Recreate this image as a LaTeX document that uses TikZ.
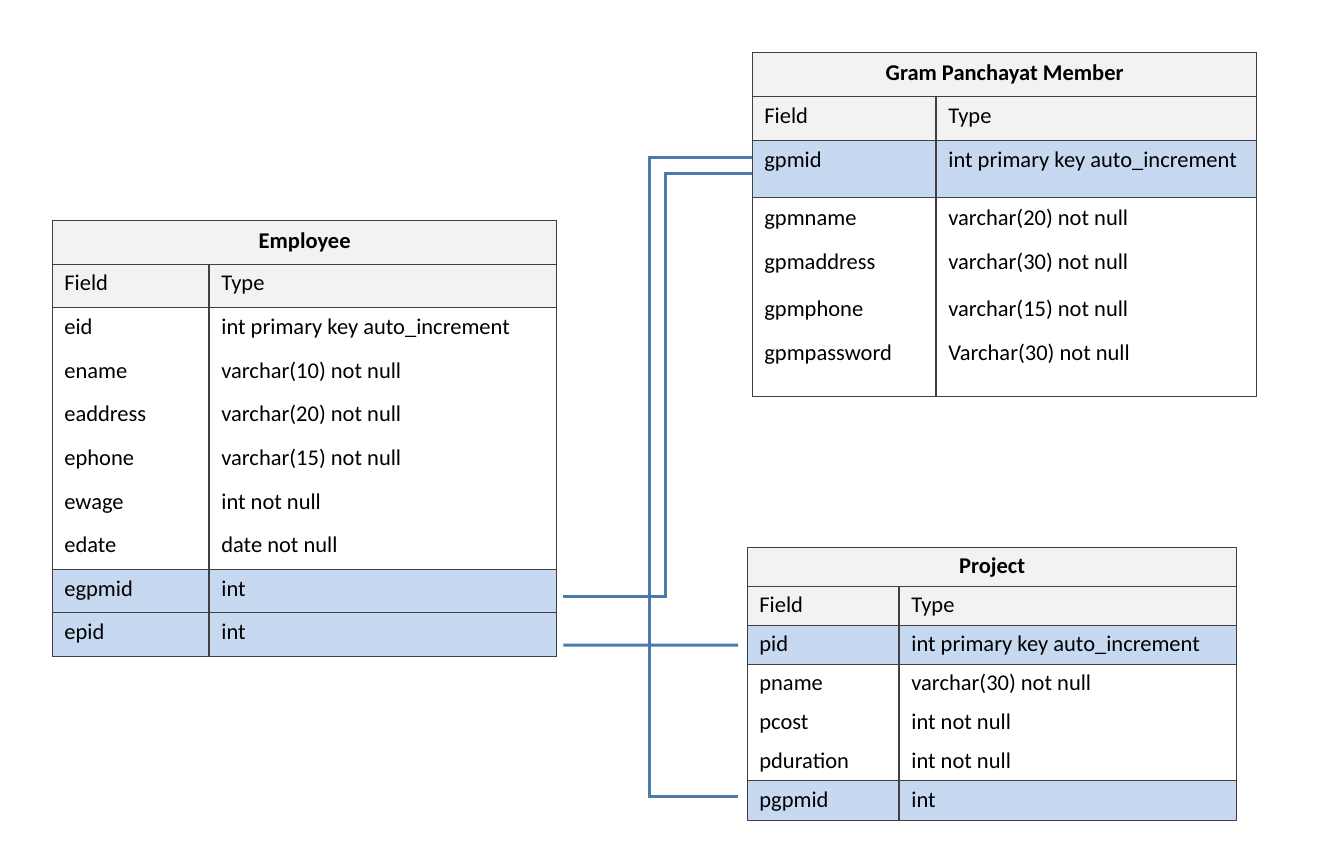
\documentclass[tikz,border=0pt]{standalone}
\usepackage{fontspec}
\setmainfont{Carlito}
\usetikzlibrary{positioning}
\definecolor{gridline}{HTML}{404040}
\definecolor{headgray}{HTML}{F2F2F2}
\definecolor{keyblue}{HTML}{C6D9F0}
\definecolor{linkblue}{HTML}{4A7AAE}
\tikzstyle{band} = [rectangle, draw=gridline, line width=0.8pt, inner sep=0pt, anchor=north west]
\tikzstyle{cell} = [anchor=base west, inner sep=0pt, font=\fontsize{12.8}{15}\selectfont]
\tikzstyle{tname} = [inner sep=0pt, font=\fontsize{12.8}{15}\selectfont\bfseries]
\tikzstyle{link} = [draw=linkblue, line width=1.7pt]
\tikzstyle{divider} = [draw=gridline, line width=0.8pt]

\begin{document}
\begin{tikzpicture}[x=0.02cm, y=-0.02cm]
    \useasboundingbox[fill=white] (0,0) rectangle (1344,860);

    % Employee
    \node (emptitle) [band, fill=headgray, minimum width=10.08cm, minimum height=0.88cm] at (52,220) {};
    \node (emphead) [band, fill=headgray, minimum width=10.08cm, minimum height=0.86cm] at (52,264) {};
    \node (empbody) [band, minimum width=10.08cm, minimum height=5.24cm] at (52,307) {};
    \node (egpmid) [band, fill=keyblue, minimum width=10.08cm, minimum height=0.86cm] at (52,569) {};
    \node (epid) [band, fill=keyblue, minimum width=10.08cm, minimum height=0.88cm] at (52,612) {};
    \draw [divider] (emphead.north west -| 209,0) -- (epid.south west -| 209,0);
    \node (empname) [tname] at (emptitle.center) {Employee};
    \foreach \f/\t/\y [count=\i] in {Field/Type/283, eid/int primary key auto\_increment/327,
        ename/varchar(10) not null/371, eaddress/varchar(20) not null/414,
        ephone/varchar(15) not null/458, ewage/int not null/502, edate/date not null/545,
        egpmid/int/589, epid/int/632} {
        \node (empf\i) [cell] at (64,\y+7) {\f};
        \node (empt\i) [cell] at (221,\y+7) {\t};
    }

    % Gram Panchayat Member
    \node (gpmtitle) [band, fill=headgray, minimum width=10.08cm, minimum height=0.88cm] at (752,52) {};
    \node (gpmhead) [band, fill=headgray, minimum width=10.08cm, minimum height=0.88cm] at (752,96) {};
    \node (gpmid) [band, fill=keyblue, minimum width=10.08cm, minimum height=1.14cm] at (752,140) {};
    \node (gpmbody) [band, minimum width=10.08cm, minimum height=3.98cm] at (752,197) {};
    \draw [divider] (gpmhead.north west -| 936,0) -- (gpmbody.south west -| 936,0);
    \node (gpmname) [tname] at (gpmtitle.center) {Gram Panchayat Member};
    \foreach \f/\t/\y [count=\i] in {Field/Type/116, gpmid/int primary key auto\_increment/160,
        gpmname/varchar(20) not null/218, gpmaddress/varchar(30) not null/262,
        gpmphone/varchar(15) not null/309, gpmpassword/Varchar(30) not null/353} {
        \node (gpmf\i) [cell] at (764,\y+7) {\f};
        \node (gpmt\i) [cell] at (948,\y+7) {\t};
    }

    % Project
    \node (prjtitle) [band, fill=headgray, minimum width=9.78cm, minimum height=0.78cm] at (747,547) {};
    \node (prjhead) [band, fill=headgray, minimum width=9.78cm, minimum height=0.78cm] at (747,586) {};
    \node (pid) [band, fill=keyblue, minimum width=9.78cm, minimum height=0.78cm] at (747,625) {};
    \node (prjbody) [band, minimum width=9.78cm, minimum height=2.32cm] at (747,664) {};
    \node (pgpmid) [band, fill=keyblue, minimum width=9.78cm, minimum height=0.80cm] at (747,780) {};
    \draw [divider] (prjhead.north west -| 899,0) -- (pgpmid.south west -| 899,0);
    \node (prjname) [tname] at (prjtitle.center) {Project};
    \foreach \f/\t/\y [count=\i] in {Field/Type/605, pid/int primary key auto\_increment/644,
        pname/varchar(30) not null/683, pcost/int not null/722,
        pduration/int not null/761, pgpmid/int/800} {
        \node (prjf\i) [cell] at (759,\y+7) {\f};
        \node (prjt\i) [cell] at (911,\y+7) {\t};
    }

    % links
    \draw [link] ([xshift=0.12cm, yshift=-0.11cm]egpmid.east) -| ([xshift=-1.74cm, yshift=-0.09cm]gpmid.west) -- ([yshift=-0.09cm]gpmid.west);
    \draw [link] ([yshift=0.24cm]gpmid.west) -| ([xshift=-1.96cm, yshift=0.08cm]pgpmid.west) -- ([xshift=-0.18cm, yshift=0.08cm]pgpmid.west);
    \draw [link] ([xshift=0.12cm, yshift=-0.21cm]epid.east) -- ([xshift=-0.18cm]pid.west);

\end{tikzpicture}
\end{document}
